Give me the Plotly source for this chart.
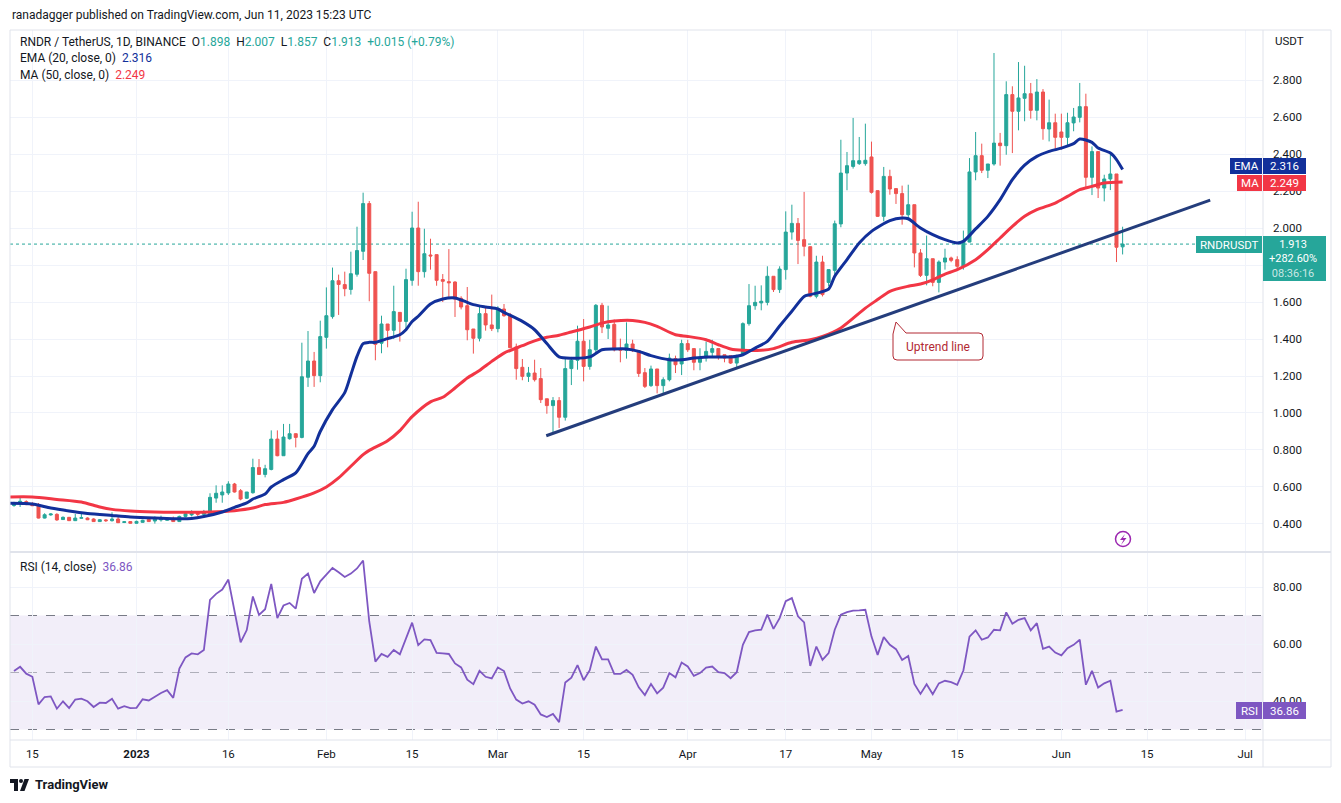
import pandas as pd
import plotly.graph_objects as go
from plotly.subplots import make_subplots

# ---------------- data ----------------
START_DATE = "2022-12-12"   # first visible daily candle

opens = [0.500, 0.514, 0.521, 0.505, 0.502, 0.432, 0.449, 0.452, 0.424, 0.436,
         0.418, 0.431, 0.432, 0.427, 0.413, 0.422, 0.418, 0.427, 0.408, 0.413,
         0.404, 0.409, 0.425, 0.416, 0.422, 0.420, 0.427, 0.413, 0.441, 0.449,
         0.459, 0.452, 0.454, 0.540, 0.557, 0.568, 0.616, 0.580, 0.539, 0.569,
         0.705, 0.668, 0.695, 0.859, 0.769, 0.861, 0.888, 0.868, 1.193, 1.281,
         1.202, 1.409, 1.521, 1.715, 1.694, 1.668, 1.750, 1.874, 2.132, 1.764,
         1.377, 1.481, 1.447, 1.544, 1.495, 1.717, 2.000, 1.764, 1.854, 1.856,
         1.721, 1.710, 1.708, 1.620, 1.580, 1.454, 1.404, 1.537, 1.476, 1.456,
         1.562, 1.530, 1.357, 1.247, 1.198, 1.216, 1.186, 1.077, 1.040, 1.067,
         0.977, 1.240, 1.285, 1.388, 1.252, 1.342, 1.582, 1.458, 1.479, 1.348,
         1.339, 1.373, 1.337, 1.218, 1.148, 1.238, 1.148, 1.180, 1.294, 1.265,
         1.375, 1.348, 1.274, 1.297, 1.328, 1.348, 1.315, 1.310, 1.270, 1.315,
         1.483, 1.580, 1.595, 1.598, 1.739, 1.667, 1.775, 1.978, 2.025, 1.937,
         1.899, 1.631, 1.816, 1.706, 1.771, 2.022, 2.297, 2.333, 2.348, 2.348,
         2.384, 2.202, 2.063, 2.279, 2.213, 2.186, 2.072, 2.126, 1.865, 1.744,
         1.834, 1.706, 1.816, 1.838, 1.829, 1.793, 1.924, 2.303, 2.391, 2.312,
         2.346, 2.459, 2.445, 2.721, 2.631, 2.701, 2.726, 2.636, 2.735, 2.535,
         2.569, 2.519, 2.490, 2.568, 2.598, 2.656, 2.274, 2.413, 2.216, 2.265,
         2.292, 1.898]
highs = [0.520, 0.541, 0.528, 0.518, 0.513, 0.458, 0.458, 0.458, 0.441, 0.438,
         0.454, 0.456, 0.436, 0.431, 0.427, 0.427, 0.463, 0.440, 0.416, 0.416,
         0.418, 0.423, 0.429, 0.441, 0.445, 0.436, 0.440, 0.445, 0.463, 0.474,
         0.467, 0.476, 0.566, 0.609, 0.609, 0.631, 0.622, 0.589, 0.573, 0.753,
         0.751, 0.720, 0.906, 0.906, 0.941, 0.941, 0.890, 1.380, 1.443, 1.330,
         1.499, 1.679, 1.786, 1.748, 1.764, 1.872, 2.007, 2.191, 2.146, 1.764,
         1.526, 1.481, 1.688, 1.544, 1.780, 2.088, 2.142, 1.996, 1.942, 1.856,
         1.751, 1.886, 1.712, 1.631, 1.681, 1.454, 1.577, 1.573, 1.640, 1.577,
         1.589, 1.541, 1.375, 1.292, 1.249, 1.288, 1.243, 1.077, 1.086, 1.086,
         1.292, 1.303, 1.472, 1.508, 1.396, 1.589, 1.595, 1.580, 1.505, 1.402,
         1.490, 1.396, 1.337, 1.243, 1.256, 1.238, 1.193, 1.321, 1.310, 1.396,
         1.396, 1.348, 1.350, 1.386, 1.396, 1.348, 1.315, 1.310, 1.315, 1.490,
         1.697, 1.688, 1.690, 1.793, 1.739, 1.793, 2.090, 2.126, 2.054, 2.195,
         1.899, 1.850, 1.850, 1.775, 2.040, 2.477, 2.411, 2.595, 2.492, 2.564,
         2.467, 2.202, 2.330, 2.315, 2.213, 2.229, 2.234, 2.126, 1.886, 1.959,
         1.834, 1.825, 1.888, 1.845, 1.847, 1.986, 2.378, 2.519, 2.456, 2.346,
         2.946, 2.514, 2.793, 2.766, 2.897, 2.877, 2.784, 2.805, 2.751, 2.694,
         2.618, 2.618, 2.623, 2.649, 2.784, 2.726, 2.441, 2.413, 2.288, 2.396,
         2.292, 2.007]
lows = [0.493, 0.492, 0.502, 0.497, 0.430, 0.430, 0.445, 0.417, 0.422, 0.416,
        0.416, 0.429, 0.421, 0.411, 0.411, 0.411, 0.413, 0.405, 0.405, 0.402,
        0.402, 0.407, 0.411, 0.402, 0.413, 0.418, 0.411, 0.411, 0.436, 0.441,
        0.441, 0.445, 0.452, 0.515, 0.515, 0.557, 0.570, 0.528, 0.535, 0.564,
        0.665, 0.652, 0.690, 0.766, 0.769, 0.856, 0.814, 0.863, 1.141, 1.141,
        1.166, 1.348, 1.510, 1.530, 1.631, 1.640, 1.737, 1.827, 1.604, 1.285,
        1.323, 1.355, 1.400, 1.386, 1.445, 1.688, 1.688, 1.732, 1.775, 1.688,
        1.600, 1.620, 1.519, 1.560, 1.393, 1.321, 1.387, 1.445, 1.443, 1.436,
        1.520, 1.350, 1.180, 1.177, 1.168, 1.170, 1.054, 0.996, 0.895, 0.919,
        0.959, 1.151, 1.234, 1.171, 1.234, 1.330, 1.432, 1.400, 1.333, 1.274,
        1.294, 1.330, 1.195, 1.135, 1.141, 1.106, 1.108, 1.171, 1.216, 1.205,
        1.330, 1.231, 1.231, 1.278, 1.297, 1.288, 1.274, 1.265, 1.249, 1.310,
        1.472, 1.558, 1.555, 1.582, 1.654, 1.649, 1.721, 1.937, 1.805, 1.847,
        1.625, 1.620, 1.630, 1.685, 1.739, 2.004, 2.204, 2.321, 2.341, 2.337,
        2.186, 2.060, 2.036, 2.180, 2.130, 2.018, 2.041, 1.787, 1.735, 1.690,
        1.685, 1.652, 1.775, 1.815, 1.775, 1.775, 1.923, 2.258, 2.297, 2.270,
        2.337, 2.337, 2.396, 2.405, 2.528, 2.577, 2.591, 2.582, 2.477, 2.468,
        2.423, 2.423, 2.445, 2.523, 2.571, 2.222, 2.178, 2.162, 2.144, 2.205,
        1.816, 1.857]
closes = [0.514, 0.523, 0.505, 0.499, 0.432, 0.450, 0.454, 0.422, 0.436, 0.418,
          0.432, 0.434, 0.423, 0.413, 0.423, 0.418, 0.427, 0.407, 0.412, 0.404,
          0.414, 0.420, 0.413, 0.429, 0.427, 0.427, 0.413, 0.441, 0.456, 0.458,
          0.452, 0.461, 0.544, 0.566, 0.573, 0.616, 0.573, 0.535, 0.573, 0.705,
          0.668, 0.699, 0.859, 0.769, 0.870, 0.888, 0.868, 1.196, 1.281, 1.202,
          1.413, 1.526, 1.715, 1.695, 1.672, 1.753, 1.878, 2.132, 1.755, 1.371,
          1.481, 1.447, 1.548, 1.495, 1.721, 2.000, 1.764, 1.861, 1.849, 1.717,
          1.712, 1.704, 1.616, 1.573, 1.450, 1.404, 1.537, 1.476, 1.456, 1.562,
          1.526, 1.353, 1.240, 1.198, 1.216, 1.180, 1.072, 1.040, 1.067, 0.977,
          1.240, 1.285, 1.388, 1.252, 1.342, 1.582, 1.465, 1.476, 1.342, 1.339,
          1.373, 1.337, 1.214, 1.144, 1.238, 1.148, 1.180, 1.297, 1.261, 1.375,
          1.342, 1.274, 1.297, 1.333, 1.348, 1.306, 1.297, 1.270, 1.310, 1.483,
          1.580, 1.598, 1.604, 1.739, 1.667, 1.778, 1.978, 2.025, 1.933, 1.901,
          1.631, 1.816, 1.640, 1.775, 2.023, 2.297, 2.337, 2.364, 2.364, 2.366,
          2.193, 2.063, 2.279, 2.211, 2.186, 2.072, 2.126, 1.865, 1.744, 1.834,
          1.706, 1.816, 1.838, 1.825, 1.793, 1.928, 2.303, 2.391, 2.312, 2.346,
          2.459, 2.445, 2.721, 2.631, 2.703, 2.726, 2.636, 2.735, 2.537, 2.569,
          2.490, 2.490, 2.569, 2.600, 2.656, 2.274, 2.413, 2.216, 2.265, 2.292,
          1.896, 1.913]

# EMA(20) and MA(50) lines, read at day offsets from START_DATE
ema_day = [-1, 3, 6, 9, 12, 16, 19, 23, 26, 29, 31, 34, 36, 38, 39, 41, 42, 44,
           46, 48, 49, 50, 52, 54, 55, 56, 57, 58, 59, 61, 63, 64, 65, 66, 68,
           70, 72, 74, 75, 77, 79, 80, 83, 85, 87, 89, 91, 94, 96, 98, 100, 102,
           104, 107, 109, 111, 113, 115, 117, 119, 121, 123, 125, 127, 129, 130,
           133, 134, 136, 138, 140, 143, 145, 146, 148, 150, 152, 154, 155, 157,
           159, 161, 163, 165, 167, 169, 171, 173, 174, 176, 177, 179, 180, 181]
ema_val = [0.512, 0.508, 0.486, 0.470, 0.457, 0.446, 0.438, 0.432, 0.429, 0.430,
           0.440, 0.465, 0.490, 0.514, 0.535, 0.562, 0.600, 0.640, 0.676, 0.780,
           0.820, 0.900, 1.018, 1.110, 1.207, 1.306, 1.375, 1.382, 1.382, 1.402,
           1.423, 1.450, 1.495, 1.523, 1.589, 1.616, 1.622, 1.598, 1.586, 1.573,
           1.562, 1.544, 1.495, 1.450, 1.375, 1.303, 1.296, 1.303, 1.342, 1.346,
           1.346, 1.333, 1.310, 1.288, 1.288, 1.297, 1.303, 1.303, 1.303, 1.315,
           1.351, 1.387, 1.470, 1.550, 1.630, 1.640, 1.670, 1.739, 1.829, 1.919,
           1.982, 2.040, 2.054, 2.050, 2.000, 1.964, 1.937, 1.919, 1.928, 1.995,
           2.063, 2.153, 2.261, 2.340, 2.387, 2.414, 2.432, 2.456, 2.481, 2.463,
           2.432, 2.405, 2.370, 2.316]
ma_day = [-1, 3, 7, 11, 14, 16, 19, 23, 26, 29, 32, 36, 39, 41, 44, 46, 49, 51,
          53, 55, 57, 58, 61, 63, 65, 68, 70, 72, 74, 76, 78, 80, 83, 85, 87, 89,
          91, 94, 96, 98, 101, 103, 105, 108, 110, 113, 115, 117, 119, 122, 124,
          127, 130, 132, 135, 139, 141, 143, 146, 148, 150, 152, 154, 157, 159,
          161, 163, 165, 167, 170, 172, 174, 176, 178, 181]
ma_val = [0.546, 0.546, 0.533, 0.519, 0.492, 0.479, 0.470, 0.465, 0.463, 0.463,
          0.465, 0.472, 0.486, 0.505, 0.517, 0.535, 0.568, 0.600, 0.649, 0.712,
          0.775, 0.798, 0.850, 0.905, 0.980, 1.060, 1.085, 1.135, 1.189, 1.230,
          1.279, 1.324, 1.364, 1.390, 1.409, 1.420, 1.438, 1.465, 1.486, 1.497,
          1.500, 1.490, 1.468, 1.423, 1.414, 1.396, 1.369, 1.346, 1.339, 1.339,
          1.348, 1.382, 1.396, 1.414, 1.460, 1.567, 1.613, 1.658, 1.685, 1.697,
          1.720, 1.751, 1.775, 1.829, 1.883, 1.946, 2.009, 2.063, 2.099, 2.135,
          2.171, 2.207, 2.225, 2.243, 2.249]

# RSI(14), one value per candle
rsi_vals = [50.5, 52.0, 49.6, 48.5, 38.8, 41.4, 41.6, 37.3, 39.9, 37.5,
            40.5, 40.8, 39.9, 37.9, 39.4, 39.3, 40.8, 37.3, 38.2, 37.5,
            37.6, 40.6, 40.2, 41.6, 42.8, 43.8, 41.1, 51.4, 55.3, 56.7,
            56.4, 57.9, 75.5, 77.6, 79.1, 82.6, 71.4, 60.6, 64.9, 76.7,
            70.2, 72.2, 81.1, 69.1, 73.5, 74.4, 72.4, 82.9, 84.7, 77.9,
            82.0, 84.4, 86.7, 85.2, 83.5, 84.7, 86.5, 89.3, 67.9, 53.8,
            56.5, 55.5, 57.9, 56.4, 62.0, 67.5, 59.6, 61.6, 61.4, 56.9,
            56.7, 56.5, 53.2, 51.8, 47.5, 45.9, 50.6, 48.5, 47.9, 51.8,
            50.5, 44.4, 40.5, 39.1, 39.9, 38.7, 35.3, 34.4, 35.5, 32.6,
            46.5, 48.2, 52.6, 47.3, 50.8, 59.1, 54.6, 54.6, 49.5, 49.5,
            50.9, 49.2, 44.8, 42.1, 46.0, 42.7, 44.7, 49.8, 48.3, 53.5,
            52.1, 48.8, 49.8, 51.7, 52.1, 50.1, 49.8, 48.0, 50.1, 59.7,
            64.2, 64.8, 65.0, 70.3, 65.3, 69.1, 75.0, 76.1, 69.7, 67.6,
            52.3, 59.1, 54.4, 56.8, 65.0, 70.3, 71.2, 71.7, 71.8, 72.0,
            62.6, 56.2, 62.4, 59.7, 58.2, 54.4, 55.8, 46.0, 42.5, 45.9,
            42.4, 46.2, 47.1, 46.6, 45.7, 50.7, 62.6, 64.8, 61.5, 62.3,
            65.0, 64.8, 71.1, 67.1, 68.5, 69.1, 64.8, 67.3, 58.3, 59.1,
            57.0, 56.0, 58.5, 59.7, 61.5, 45.7, 50.6, 44.7, 46.2, 47.1,
            36.3, 36.86]

# drawn uptrend line (two anchor points)
trend_dates = ["2023-03-08 21:36", "2023-06-25 07:12"]
trend_prices = [0.877, 2.151]

last_close = 1.913
ema_last, ma_last, rsi_last = 2.316, 2.249, 36.86

price_ticks = [0.4, 0.6, 0.8, 1.0, 1.2, 1.4, 1.6, 1.8, 2.0, 2.2, 2.4, 2.6, 2.8]
hidden_price_ticks = [1.8]   # label covered by the last-price badge
rsi_ticks = [40, 60, 80]
time_tick_dates = ["2022-12-15", "2023-01-01", "2023-01-16", "2023-02-01",
                   "2023-02-15", "2023-03-01", "2023-03-15", "2023-04-01",
                   "2023-04-17", "2023-05-01", "2023-05-15", "2023-06-01",
                   "2023-06-15", "2023-07-01"]
time_tick_text = ["15", "<b>2023</b>", "16", "Feb", "15", "Mar", "15", "Apr",
                  "17", "May", "15", "Jun", "15", "Jul"]

# ---------------- styling / geometry ----------------
W, H = 1341, 803
ML, MR, MT, MB = 10, 78, 30, 63
PW, PH = W - ML - MR, H - MT - MB
FONT = "Roboto, 'Liberation Sans', sans-serif"
TXT = "#131722"
UP, DOWN = "#26a69a", "#ef5350"
EMA_C, MA_C, RSI_C = "#12309a", "#f23645", "#7e57c2"
GRID = "#f0f3fa"
FRAME = "#e0e3eb"
SPLIT = (H - MB - 552) / PH   # price / RSI pane split


def px(x):
    return (x - ML) / PW


def py(y):
    return (H - MB - y) / PH


d0 = pd.Timestamp(START_DATE)
dates = pd.date_range(START_DATE, periods=len(closes), freq="D")
ema_dates = [d0 + pd.Timedelta(days=k) for k in ema_day]
ma_dates = [d0 + pd.Timedelta(days=k) for k in ma_day]
x_lo = d0 + pd.Timedelta(days=-0.653)
x_hi = d0 + pd.Timedelta(days=203.92)

fig = make_subplots(rows=2, cols=1, shared_xaxes=True, vertical_spacing=0)

fig.add_trace(go.Candlestick(
    x=dates, open=opens, high=highs, low=lows, close=closes,
    increasing=dict(line=dict(color=UP, width=1), fillcolor=UP),
    decreasing=dict(line=dict(color=DOWN, width=1), fillcolor=DOWN),
    whiskerwidth=0, hoverinfo="skip"), row=1, col=1)

fig.add_trace(go.Scatter(x=ma_dates, y=ma_val, mode="lines",
                         line=dict(color=MA_C, width=3, shape="spline", smoothing=0.7),
                         hoverinfo="skip"), row=1, col=1)
fig.add_trace(go.Scatter(x=ema_dates, y=ema_val, mode="lines",
                         line=dict(color=EMA_C, width=3, shape="spline", smoothing=0.7),
                         hoverinfo="skip"), row=1, col=1)
fig.add_trace(go.Scatter(x=trend_dates, y=trend_prices, mode="lines",
                         line=dict(color="#243d7c", width=3), hoverinfo="skip"),
              row=1, col=1)
fig.add_trace(go.Scatter(x=dates, y=rsi_vals, mode="lines",
                         line=dict(color=RSI_C, width=1.8), hoverinfo="skip"),
              row=2, col=1)

axis_common = dict(showline=False, zeroline=False, gridcolor=GRID, gridwidth=1,
                   showgrid=True)
fig.update_layout(
    width=W, height=H, margin=dict(l=ML, r=MR, t=MT, b=MB),
    paper_bgcolor="white", plot_bgcolor="white", showlegend=False,
    font=dict(family=FONT, color=TXT, size=12),
    xaxis=dict(range=[x_lo, x_hi], tickvals=time_tick_dates, showticklabels=False,
               rangeslider=dict(visible=False), **axis_common),
    xaxis2=dict(range=[x_lo, x_hi], tickvals=time_tick_dates, ticktext=time_tick_text,
                tickfont=dict(size=11.5, color=TXT), ticks="", ticklabelstandoff=5,
                **axis_common),
    yaxis=dict(domain=[SPLIT, 1], range=[0.2486, 3.0703], side="right",
               tickvals=price_ticks,
               ticktext=["" if v in hidden_price_ticks else f"{v:.3f}" for v in price_ticks],
               tickfont=dict(size=11.5, color=TXT), ticks="", ticklabelstandoff=9,
               **axis_common),
    yaxis2=dict(domain=[0, SPLIT], range=[26.32, 92.28], side="right",
                tickvals=rsi_ticks, ticktext=[f"{v:.2f}" for v in rsi_ticks],
                tickfont=dict(size=11.5, color=TXT), ticks="", ticklabelstandoff=9,
                **axis_common),
)

shapes = []
# RSI band and levels
shapes.append(dict(type="rect", xref="paper", yref="y2", x0=0, x1=1, y0=30, y1=70,
                   fillcolor="rgba(126,87,194,0.10)", line=dict(width=0), layer="below"))
for lvl, col in [(70, "#787b86"), (30, "#787b86"), (50, "rgba(120,123,134,0.55)")]:
    shapes.append(dict(type="line", xref="paper", yref="y2", x0=0, x1=1, y0=lvl, y1=lvl,
                       line=dict(color=col, width=1, dash="dash"), layer="below"))
# last price dotted line
shapes.append(dict(type="line", xref="paper", yref="y", x0=0, x1=1, y0=last_close,
                   y1=last_close, line=dict(color=UP, width=1, dash="dot"), layer="below"))
# frame
shapes.append(dict(type="rect", xref="paper", yref="paper", x0=px(10), x1=px(1331),
                   y0=py(30), y1=py(767), line=dict(color=FRAME, width=1)))
shapes.append(dict(type="line", xref="paper", yref="paper", x0=px(1263), x1=px(1263),
                   y0=py(30), y1=py(767), line=dict(color=FRAME, width=1)))
shapes.append(dict(type="line", xref="paper", yref="paper", x0=px(10), x1=px(1331),
                   y0=py(552), y1=py(552), line=dict(color=FRAME, width=2)))
shapes.append(dict(type="line", xref="paper", yref="paper", x0=px(10), x1=px(1331),
                   y0=py(740), y1=py(740), line=dict(color=FRAME, width=1)))

anns = []


def box(x0, y0, x1, y1, color):
    shapes.append(dict(type="rect", xref="paper", yref="paper", x0=px(x0), x1=px(x1),
                       y0=py(y1), y1=py(y0), fillcolor=color, line=dict(width=0),
                       layer="above"))


def text(x, y, s, size=12, color=TXT, xanchor="left", yanchor="middle"):
    anns.append(dict(xref="paper", yref="paper", x=px(x), y=py(y), text=s,
                     showarrow=False, xanchor=xanchor, yanchor=yanchor,
                     font=dict(size=size, color=color, family=FONT)))


# right-axis badges
box(1230, 158, 1262, 174, EMA_C); box(1263, 158, 1306, 174, EMA_C)
text(1246, 166, "EMA", 11.5, "white", "center"); text(1284.5, 166, f"{ema_last:.3f}", 11.5, "white", "center")
box(1237, 175, 1262, 191, MA_C); box(1263, 175, 1306, 191, MA_C)
text(1249.5, 183, "MA", 11.5, "white", "center"); text(1284.5, 183, f"{ma_last:.3f}", 11.5, "white", "center")
box(1196, 236, 1262, 253, UP); box(1263, 236, 1326, 281, UP)
text(1229, 244.5, "RNDRUSDT", 11.5, "white", "center")
text(1267, 258.5, f"{last_close:.3f}<br>+282.60%<br>"
     "<span style='color:rgba(255,255,255,0.75)'>08:36:16</span>", 11, "white")
box(1236, 702, 1262, 719, RSI_C); box(1263, 702, 1306, 719, RSI_C)
text(1249, 710.5, "RSI", 11.5, "white", "center"); text(1284.5, 710.5, f"{rsi_last:.2f}", 11.5, "white", "center")

text(1273, 41, "USDT", 11.5)

# header and legends
text(10, 15, "ranadagger published on TradingView.com, Jun 11, 2023 15:23 UTC", 12)
g = UP
text(18, 42, "RNDR / TetherUS, 1D, BINANCE  "
     f"O<span style='color:{g}'>1.898</span>  H<span style='color:{g}'>2.007</span>  "
     f"L<span style='color:{g}'>1.857</span>  C<span style='color:{g}'>1.913</span>  "
     f"<span style='color:{g}'>+0.015 (+0.79%)</span>", 12)
text(18, 58, f"EMA (20, close, 0)  <span style='color:{EMA_C}'>{ema_last:.3f}</span>", 12)
text(18, 75, f"MA (50, close, 0)  <span style='color:{MA_C}'>{ma_last:.3f}</span>", 12)
text(18, 567, f"RSI (14, close)  <span style='color:{RSI_C}'>{rsi_last:.2f}</span>", 12)

# "Uptrend line" callout
CALL = "#b22833"
pts = [(896, 322), (906, 333), (979, 333), ("q", 983, 333, 983, 337), (983, 356),
       ("q", 983, 360, 979, 360), (897, 360), ("q", 893, 360, 893, 356), (893, 334)]
path = f"M{px(pts[0][0])},{py(pts[0][1])}"
for p in pts[1:]:
    if p[0] == "q":
        path += f" Q{px(p[1])},{py(p[2])} {px(p[3])},{py(p[4])}"
    else:
        path += f" L{px(p[0])},{py(p[1])}"
path += " Z"
shapes.append(dict(type="path", xref="paper", yref="paper", path=path,
                   fillcolor="white", line=dict(color=CALL, width=1)))
text(938, 346.5, "Uptrend line", 12, CALL, "center")

# lightning icon
shapes.append(dict(type="circle", xref="paper", yref="paper", x0=px(1115.5), x1=px(1130.5),
                   y0=py(546.5), y1=py(531.5), line=dict(color="#9c27b0", width=1.5)))
bolt = [(1125, 534), (1120, 540), (1123.5, 540), (1121, 545), (1126.5, 538), (1123, 538)]
shapes.append(dict(type="path", xref="paper", yref="paper",
                   path="M" + " L".join(f"{px(a)},{py(b)}" for a, b in bolt) + " Z",
                   fillcolor="#9c27b0", line=dict(width=0)))

# TradingView footer logo
logo1 = [(10, 779), (18, 779), (18, 791), (14, 791), (14, 783), (10, 783)]
shapes.append(dict(type="path", xref="paper", yref="paper",
                   path="M" + " L".join(f"{px(a)},{py(b)}" for a, b in logo1) + " Z",
                   fillcolor=TXT, line=dict(width=0)))
shapes.append(dict(type="circle", xref="paper", yref="paper", x0=px(19), x1=px(23),
                   y0=py(783), y1=py(779), fillcolor=TXT, line=dict(width=0)))
logo2 = [(24.5, 779), (29, 779), (24.5, 791), (20, 791)]
shapes.append(dict(type="path", xref="paper", yref="paper",
                   path="M" + " L".join(f"{px(a)},{py(b)}" for a, b in logo2) + " Z",
                   fillcolor=TXT, line=dict(width=0)))
text(33, 785, "<b>TradingView</b>", 13)

fig.update_layout(shapes=shapes, annotations=anns)

fig.write_html("out.html", config={"displayModeBar": False},
               post_script="document.body.style.margin='0';document.body.style.overflow='hidden';")
